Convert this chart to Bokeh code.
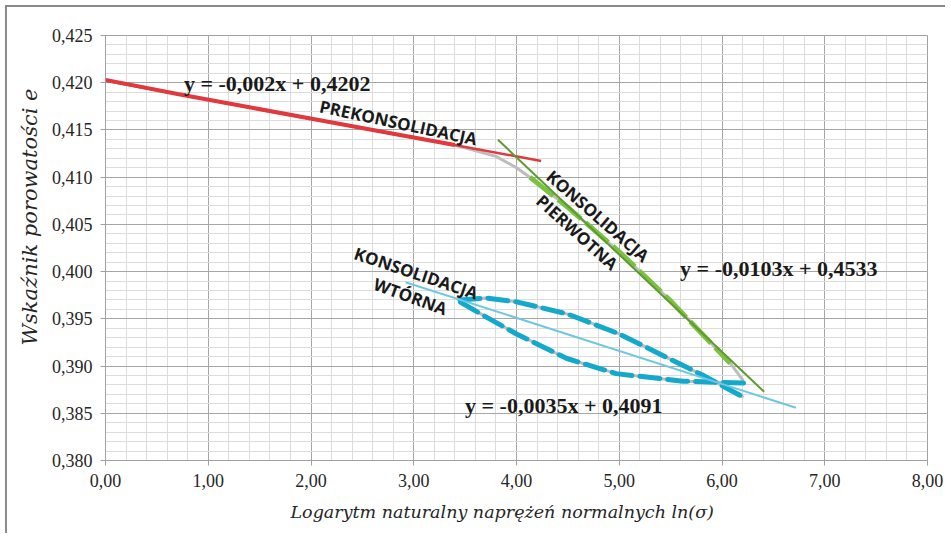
import numpy as np
from bokeh.plotting import figure
from bokeh.models import FixedTicker, CustomJSTickFormatter, Label, Title
from bokeh.embed import file_html
from bokeh.resources import INLINE

# ---- data ----
# grey measured curve: prekonsolidacja + konsolidacja pierwotna (loading)
x_load = [0.0, 0.7, 1.4, 2.1, 2.8, 3.4, 3.8, 4.0, 4.13, 4.5, 5.0, 5.5, 6.08, 6.21]
e_load = [0.4203, 0.4188, 0.4174, 0.4160, 0.4146, 0.4134, 0.4122, 0.4110, 0.4100,
          0.4068, 0.4021, 0.3969, 0.3903, 0.3884]
# part of the loading curve drawn red (prekonsolidacja) and light green (pierwotna)
x_pre = [0.0, 0.7, 1.4, 2.1, 2.8, 3.4]
e_pre = [0.4203, 0.4188, 0.4174, 0.4160, 0.4146, 0.4134]
x_pierw = [4.13, 4.5, 5.0, 5.5, 6.08]
e_pierw = [0.4100, 0.4068, 0.4021, 0.3969, 0.3903]
# unloading (lower branch) and reloading (upper branch) - konsolidacja wtórna
x_odc = [6.21, 5.62, 4.97, 4.49, 4.0, 3.72, 3.45]
e_odc = [0.3882, 0.3884, 0.3892, 0.3908, 0.3934, 0.3951, 0.3968]
x_obc = [3.45, 3.7, 4.0, 4.5, 5.0, 5.5, 5.8, 6.21]
e_obc = [0.3970, 0.3972, 0.3968, 0.3955, 0.3934, 0.3907, 0.3891, 0.3867]

# trend lines: slope, intercept, x range
trend_pre = (-0.002, 0.4202, 0.0, 4.24)
trend_pierw = (-0.0103, 0.4533, 3.82, 6.41)
trend_wt = (-0.0035, 0.4091, 2.92, 6.72)

eq_texts = ["y = -0,002x + 0,4202", "y = -0,0103x + 0,4533", "y = -0,0035x + 0,4091"]
eq_x = [1.671, 6.553, 4.46]
eq_y = [0.41997, 0.40030, 0.38582]

cat_texts = ["PREKONSOLIDACJA", "KONSOLIDACJA", "PIERWOTNA", "KONSOLIDACJA", "WTÓRNA"]
cat_x = [2.85, 4.793, 4.591, 3.024, 2.968]
cat_y = [0.41579, 0.40589, 0.40417, 0.39985, 0.39738]
cat_angle_deg = [-12.0, -41.0, -42.0, -18.5, -20.0]

x_ticks = [0, 1, 2, 3, 4, 5, 6, 7, 8]
y_ticks = [0.380, 0.385, 0.390, 0.395, 0.400, 0.405, 0.410, 0.415, 0.420, 0.425]

x_title = "Logarytm naturalny naprężeń normalnych ln(σ)"
y_title = "Wskaźnik porowatości e"

# ---- figure ----
p = figure(width=940, height=528, x_range=(0, 8), y_range=(0.380, 0.425),
           output_backend="svg", toolbar_location=None,
           min_border_left=98, min_border_right=20, min_border_top=28, min_border_bottom=75)
p.styles = {"margin-left": "5px", "margin-top": "5px",
            "border-top": "2px solid #8a8a8a", "border-left": "2px solid #8a8a8a"}
p.outline_line_color = "#a0a0a0"
p.background_fill_color = "white"

p.xaxis.ticker = FixedTicker(ticks=x_ticks, minor_ticks=list(np.round(np.arange(0, 8.001, 0.2), 2)))
p.yaxis.ticker = FixedTicker(ticks=y_ticks, minor_ticks=list(np.round(np.arange(0.380, 0.4251, 0.001), 3)))
p.xaxis.formatter = CustomJSTickFormatter(code="return tick.toFixed(2).replace('.', ',');")
p.yaxis.formatter = CustomJSTickFormatter(code="return tick.toFixed(3).replace('.', ',');")

for ax in (p.xaxis, p.yaxis):
    ax.axis_line_color = "#a0a0a0"
    ax.major_tick_line_color = "#a0a0a0"
    ax.major_tick_out = 5
    ax.major_tick_in = 0
    ax.minor_tick_line_color = None
    ax.major_label_text_font = "Liberation Serif"
    ax.major_label_text_font_size = "18px"
    ax.major_label_text_color = "#262626"
p.xaxis.major_label_standoff = 8
p.yaxis.major_label_standoff = 8

p.xgrid.grid_line_color = "#a6a6a6"
p.ygrid.grid_line_color = "#a6a6a6"
p.xgrid.minor_grid_line_color = "#dcdcdc"
p.ygrid.minor_grid_line_color = "#dcdcdc"

# axis titles as side titles (allow the off-centre placement of the original)
p.add_layout(Title(text=y_title, text_font="DejaVu Serif", text_font_style="italic",
                   text_font_size="21px", text_color="#262626", align="left",
                   offset=115, standoff=14), "left")
p.add_layout(Title(text=x_title, text_font="DejaVu Serif", text_font_style="italic",
                   text_font_size="17.5px", text_color="#262626", align="left",
                   offset=185, standoff=20), "below")

# measured curve (grey, smooth)
p.line(x_load, e_load, line_color="#bdbdbd", line_width=3)
p.line(x_odc, e_odc, line_color="#bdbdbd", line_width=3)
p.line(x_obc, e_obc, line_color="#bdbdbd", line_width=3)

# coloured overlays
p.line(x_pre, e_pre, line_color="#e0393e", line_width=4)
p.line(x_pierw, e_pierw, line_color="#7cc242", line_width=5, line_dash="30 6")
p.line(x_odc, e_odc, line_color="#14a8cc", line_width=5, line_dash="20 8", line_cap="round")
p.line(x_obc, e_obc, line_color="#14a8cc", line_width=5, line_dash="20 8", line_cap="round")

# trend lines
def trend(t):
    a, b, x0, x1 = t
    return [x0, x1], [a * x0 + b, a * x1 + b]

xs, ys = trend(trend_pre)
p.line(xs, ys, line_color="#e0393e", line_width=2.5)
xs, ys = trend(trend_pierw)
p.line(xs, ys, line_color="#5e9a32", line_width=2)
xs, ys = trend(trend_wt)
p.line(xs, ys, line_color="#6fc7e1", line_width=2)

for t, x, y in zip(eq_texts, eq_x, eq_y):
    p.add_layout(Label(x=x, y=y, text=t, text_font="Liberation Serif", text_font_style="bold",
                       text_font_size="22px", text_color="#1a1a1a",
                       text_align="center", text_baseline="middle"))

for t, x, y, a in zip(cat_texts, cat_x, cat_y, cat_angle_deg):
    p.add_layout(Label(x=x, y=y, text=t, text_font="Open Sans", text_font_style="bold",
                       text_font_size="17px", text_color="#1a1a1a", angle=np.deg2rad(a),
                       text_align="center", text_baseline="middle"))

open("out.html", "w").write(file_html(p, INLINE))
